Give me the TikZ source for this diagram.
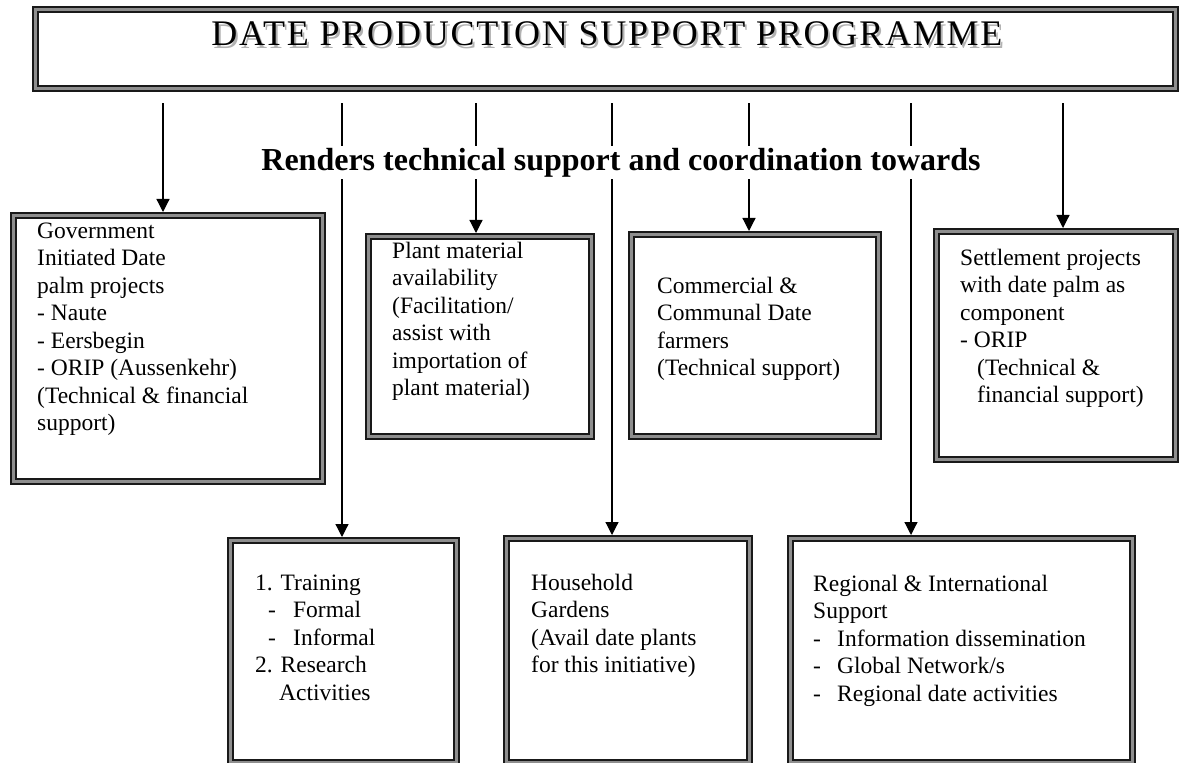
\documentclass[tikz,border=0pt]{standalone}
\usepackage{fontspec}
\setmainfont{Liberation Serif}
\newfontfamily\headfont[LetterSpace=5]{Liberation Serif}
\usetikzlibrary{arrows.meta}
\definecolor{boxgray}{HTML}{8E8E8E}
\newcommand\firststrut{\rule{0pt}{17bp}}
% heading text with a soft drop shadow, set in one box
\newcommand\shadowed[1]{\makebox[0pt][l]{\hspace{2bp}\raisebox{-2.5bp}{\color{black!30}#1}}#1}
\begin{document}
\begin{tikzpicture}[x=1bp,y=-1bp,
  framebox/.style={draw=black!90, line width=1.8bp, double=boxgray, double distance=3.6bp,
    fill=white, inner sep=0pt, outer sep=3.6bp},
  boxtext/.style={anchor=north west, inner sep=0pt, align=left,
    font=\fontsize{23.5bp}{27.5bp}\selectfont},
  conn/.style={draw=black, line width=1.2bp, -{Triangle[width=13bp,length=13bp]},
    shorten <=11bp}]
\useasboundingbox (0,0) rectangle (1180,763);

% programme header
\node[framebox, minimum width=1139.8bp, minimum height=78.8bp] (title) at (605.5,49) {};
\node[anchor=base, inner sep=0pt, font=\headfont\fontsize{36bp}{40bp}\selectfont] (titletext) at (607,46)
  {\shadowed{DATE PRODUCTION SUPPORT PROGRAMME}};

% target boxes
\node[framebox, minimum width=308.8bp, minimum height=265.8bp] (b1) at (168,348.5) {};
\node[framebox, minimum width=222.8bp, minimum height=199.8bp] (b2) at (480,336.5) {};
\node[framebox, minimum width=246.8bp, minimum height=201.8bp] (b3) at (755,335.5) {};
\node[framebox, minimum width=238.8bp, minimum height=227.8bp] (b4) at (1056,345.5) {};
\node[framebox, minimum width=225.8bp, minimum height=221.8bp] (b5) at (343.5,651.5) {};
\node[framebox, minimum width=242.8bp, minimum height=223.8bp] (b6) at (628,650.5) {};
\node[framebox, minimum width=341.8bp, minimum height=223.8bp] (b7) at (961.5,650.5) {};

% box contents
\node[boxtext] (t1) at (37,221) {\firststrut Government\\Initiated Date\\palm projects\\- Naute\\- Eersbegin\\- ORIP (Aussenkehr)\\(Technical \& financial\\support)};
\node[boxtext] (t2) at (392,241) {\firststrut Plant material\\availability\\(Facilitation/\\assist with\\importation of\\plant material)};
\node[boxtext] (t3) at (657,276) {\firststrut Commercial \&\\Communal Date\\farmers\\(Technical support)};
\node[boxtext] (t4) at (960,248) {\firststrut Settlement projects\\with date palm as\\component\\- ORIP\\\hspace*{17bp}(Technical \&\\\hspace*{17bp}financial support)};
\node[boxtext] (t5) at (255,573) {\firststrut 1. Training\\\hspace*{13bp}\makebox[25bp][l]{-}Formal\\\hspace*{13bp}\makebox[25bp][l]{-}Informal\\2. Research\\\hspace*{24bp}Activities};
\node[boxtext] (t6) at (531,573) {\firststrut Household\\Gardens\\(Avail date plants\\for this initiative)};
\node[boxtext] (t7) at (813,574) {\firststrut Regional \& International\\Support\\\makebox[24bp][l]{-}Information dissemination\\\makebox[24bp][l]{-}Global Network/s\\\makebox[24bp][l]{-}Regional date activities};

% connector columns
\coordinate (ax1) at (163,0);
\coordinate (ax2) at (342,0);
\coordinate (ax3) at (476,0);
\coordinate (ax4) at (612,0);
\coordinate (ax5) at (749,0);
\coordinate (ax6) at (911,0);
\coordinate (ax7) at (1063,0);

\draw[conn] (title.south -| ax1) -- (b1.north -| ax1);
\draw[conn] (title.south -| ax2) -- (b5.north -| ax2);
\draw[conn] (title.south -| ax3) -- (b2.north -| ax3);
\draw[conn] (title.south -| ax4) -- (b6.north -| ax4);
\draw[conn] (title.south -| ax5) -- (b3.north -| ax5);
\draw[conn] (title.south -| ax6) -- (b7.north -| ax6);
\draw[conn] (title.south -| ax7) -- (b4.north -| ax7);

% caption crossing the connectors
\node[anchor=base, fill=white, inner xsep=4bp, inner ysep=2bp,
  font=\fontsize{32bp}{36bp}\selectfont\bfseries] (renders) at (621,170)
  {Renders technical support and coordination towards};
\end{tikzpicture}
\end{document}
